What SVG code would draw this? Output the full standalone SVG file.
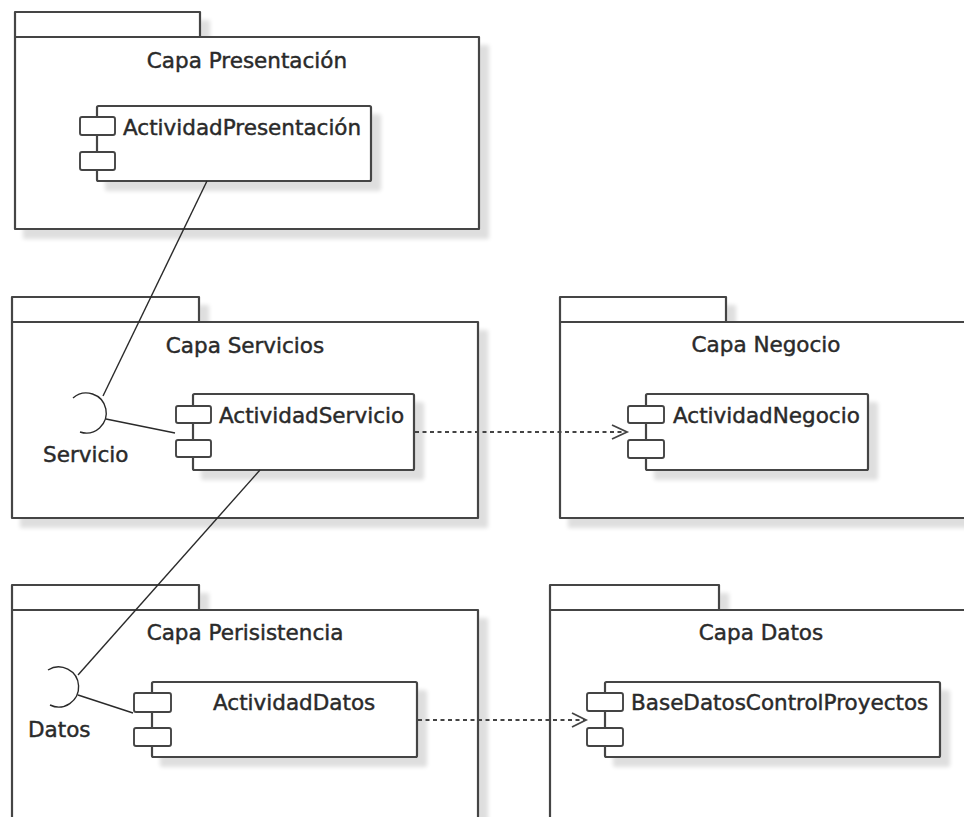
<svg xmlns="http://www.w3.org/2000/svg" width="964" height="817" viewBox="0 0 964 817">
  <style>
    .pkg { fill: #ffffff; stroke: #444444; stroke-width: 2.2; stroke-linejoin: round; }
    .cmp { fill: #ffffff; stroke: #444444; stroke-width: 2.2; }
    .port { fill: #ffffff; stroke: #444444; stroke-width: 1.9; }
    .lbl { font-family: "DejaVu Sans", "Liberation Sans", sans-serif; font-size: 21.5px; fill: #2a2a2a; stroke: #2a2a2a; stroke-width: 0.45; }
    .mid { text-anchor: middle; }
    .wire { fill: none; stroke: #2a2a2a; stroke-width: 1.4; }
    .dep { fill: none; stroke: #444444; stroke-width: 2.2; stroke-dasharray: 4 3.5; }
    .head { fill: none; stroke: #444444; stroke-width: 1.8; }
  </style>
  <defs>
    <filter id="shadow" x="-5%" y="-5%" width="115%" height="125%">
      <feOffset in="SourceAlpha" dx="9" dy="9"/>
      <feGaussianBlur stdDeviation="2"/>
      <feComponentTransfer><feFuncA type="linear" slope="0.13"/></feComponentTransfer>
      <feMerge><feMergeNode/><feMergeNode in="SourceGraphic"/></feMerge>
    </filter>
  </defs>
  <rect width="964" height="817" fill="#ffffff"/>

  <!-- Packages -->
  <g id="pkg-presentacion">
    <path class="pkg" filter="url(#shadow)" d="M15 37 V12 H200 V37 H479 V229 H15 Z"/>
    <line class="pkg" x1="15" y1="37" x2="200" y2="37"/>
    <text class="lbl mid" x="247" y="68">Capa Presentación</text>
  </g>
  <g id="pkg-servicios">
    <path class="pkg" filter="url(#shadow)" d="M12 322 V297 H199 V322 H478 V518 H12 Z"/>
    <line class="pkg" x1="12" y1="322" x2="199" y2="322"/>
    <text class="lbl mid" x="245" y="353">Capa Servicios</text>
  </g>
  <g id="pkg-negocio">
    <path class="pkg" filter="url(#shadow)" d="M560 322 V297 H726 V322 H975 V518 H560 Z"/>
    <line class="pkg" x1="560" y1="322" x2="726" y2="322"/>
    <text class="lbl mid" x="766" y="352">Capa Negocio</text>
  </g>
  <g id="pkg-persistencia">
    <path class="pkg" filter="url(#shadow)" d="M12 610 V585 H199 V610 H478 V830 H12 Z"/>
    <line class="pkg" x1="12" y1="610" x2="199" y2="610"/>
    <text class="lbl mid" x="245" y="640">Capa Perisistencia</text>
  </g>
  <g id="pkg-datos">
    <path class="pkg" filter="url(#shadow)" d="M550 610 V585 H719 V610 H975 V830 H550 Z"/>
    <line class="pkg" x1="550" y1="610" x2="719" y2="610"/>
    <text class="lbl mid" x="761" y="640">Capa Datos</text>
  </g>

  <!-- Components -->
  <g id="cmp-presentacion">
    <rect class="cmp" filter="url(#shadow)" x="97" y="106" width="274" height="75" rx="1.5"/>
    <rect class="port" x="80" y="117" width="35" height="18" rx="2"/>
    <rect class="port" x="80" y="152" width="35" height="18" rx="2"/>
    <text class="lbl" x="123" y="135">ActividadPresentación</text>
  </g>
  <g id="cmp-servicio">
    <rect class="cmp" filter="url(#shadow)" x="193" y="394" width="221" height="76" rx="1.5"/>
    <rect class="port" x="176" y="406" width="35" height="17" rx="2"/>
    <rect class="port" x="176" y="440" width="35" height="17" rx="2"/>
    <text class="lbl" x="219" y="423">ActividadServicio</text>
  </g>
  <g id="cmp-negocio">
    <rect class="cmp" filter="url(#shadow)" x="646" y="394" width="222" height="76" rx="1.5"/>
    <rect class="port" x="628" y="406" width="36" height="17" rx="2"/>
    <rect class="port" x="628" y="440" width="36" height="18" rx="2"/>
    <text class="lbl" x="673" y="423">ActividadNegocio</text>
  </g>
  <g id="cmp-datos">
    <rect class="cmp" filter="url(#shadow)" x="152" y="682" width="265" height="75" rx="1.5"/>
    <rect class="port" x="134" y="693" width="37" height="19" rx="2"/>
    <rect class="port" x="134" y="728" width="37" height="18" rx="2"/>
    <text class="lbl" x="213" y="710">ActividadDatos</text>
  </g>
  <g id="cmp-basedatos">
    <rect class="cmp" filter="url(#shadow)" x="605" y="682" width="335" height="75" rx="1.5"/>
    <rect class="port" x="587" y="693" width="36" height="18" rx="2"/>
    <rect class="port" x="587" y="728" width="36" height="18" rx="2"/>
    <text class="lbl" x="631" y="710">BaseDatosControlProyectos</text>
  </g>

  <!-- Required interfaces (sockets) -->
  <g id="if-servicio">
    <path class="wire" d="M73 398 A20 20 0 1 1 80 432"/>
    <text class="lbl" x="43" y="462">Servicio</text>
  </g>
  <g id="if-datos">
    <path class="wire" d="M48 670 A20 20 0 1 1 50 705"/>
    <text class="lbl" x="28" y="737">Datos</text>
  </g>

  <!-- Connectors -->
  <g id="connectors">
    <line class="wire" x1="207" y1="181" x2="103" y2="396"/>
    <line class="wire" x1="106" y1="419" x2="175" y2="433"/>
    <line class="wire" x1="260" y1="470" x2="78" y2="675"/>
    <line class="wire" x1="78" y1="695" x2="133" y2="713"/>
    <line class="dep" x1="415" y1="432" x2="626" y2="432"/>
    <polyline class="head" points="612,425 627,432 612,439"/>
    <line class="dep" x1="418" y1="720" x2="585" y2="720"/>
    <polyline class="head" points="572,713 586,720 572,727"/>
  </g>
</svg>
